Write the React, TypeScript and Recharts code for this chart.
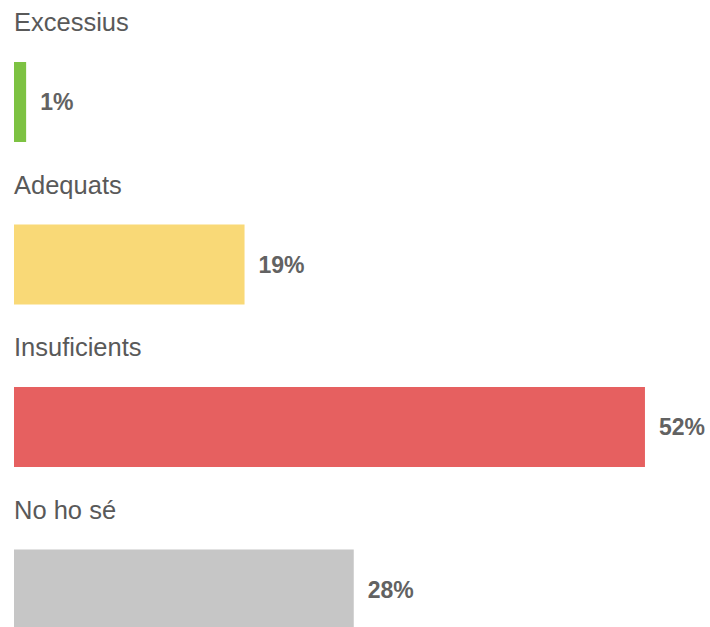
import React from 'react';
import { BarChart, Bar, XAxis, YAxis, Cell, LabelList } from 'recharts';

const categories = ['Excessius', 'Adequats', 'Insuficients', 'No ho sé'];
const values = [1, 19, 52, 28];
const barColors = ['#7dc242', '#f9d977', '#e66060', '#c6c6c6'];

const data = categories.map((name, i) => ({ name, value: values[i], color: barColors[i] }));

const FONT = 'Liberation Sans';

const renderCategory = (props: any) => {
    const { x, y, value } = props;
    return (
        <text x={x} y={y - 31} fill="#595959" fontSize={25.5} style={{ fontFamily: FONT }}>
            {value}
        </text>
    );
};

const renderValue = (props: any) => {
    const { x, y, width, height, value } = props;
    return (
        <text
            x={x + width + 14}
            y={y + height / 2}
            dy="0.36em"
            fill="#626262"
            fontSize={23}
            fontWeight="bold"
            style={{ fontFamily: FONT }}
        >
            {`${value}%`}
        </text>
    );
};

export default function App() {
    return (
        <div style={{ position: 'absolute', left: 0, top: 0, width: 710, height: 627, overflow: 'hidden', background: '#fff' }}>
            <BarChart
                width={710}
                height={690}
                data={data}
                layout="vertical"
                margin={{ top: 21, right: 0, left: 14, bottom: 19 }}
                barSize={80}
            >
                <XAxis type="number" domain={[0, 57.36]} hide />
                <YAxis type="category" dataKey="name" hide />
                <Bar dataKey="value" isAnimationActive={false}>
                    {data.map((entry, index) => (
                        <Cell key={`cell-${index}`} fill={entry.color} />
                    ))}
                    <LabelList dataKey="name" content={renderCategory} />
                    <LabelList dataKey="value" content={renderValue} />
                </Bar>
            </BarChart>
        </div>
    );
}
